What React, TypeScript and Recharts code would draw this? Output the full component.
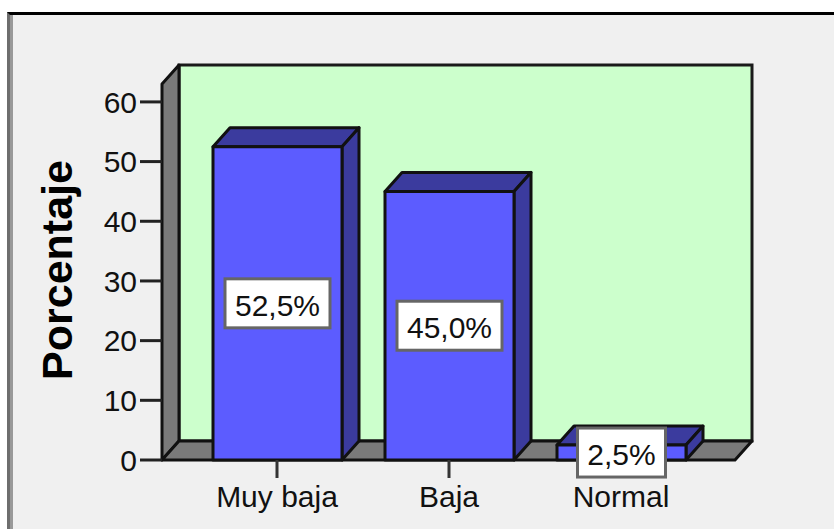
import React from 'react';
import { BarChart, Bar, XAxis, YAxis, ReferenceArea, LabelList } from 'recharts';

const categories = ['Muy baja', 'Baja', 'Normal'];
const percentages = [52.5, 45.0, 2.5];
const yTicks = [0, 10, 20, 30, 40, 50, 60];

const data = categories.map((name, i) => ({ name, value: percentages[i] }));

const FONT = '"Liberation Sans", Arial, sans-serif';
const DX = 17;
const DY = 19;
const PAD_L = 29;
const PAD_R = 28;

const fmt = (v: number) => v.toFixed(1).replace('.', ',') + '%';

// back wall, left wall and floor of the 3D box
const Walls = (props: any) => {
  const { x, y, width, height } = props;
  const l = x - PAD_L;
  const r = x + width + PAD_R;
  const b = y + height;
  return (
    <g>
      <rect x={l + DX} y={y - DY} width={r - l} height={height} fill="#ccffcc" stroke="#1a1a1a" strokeWidth={3} />
      <polygon
        points={`${l},${y} ${l + DX},${y - DY} ${l + DX},${b - DY} ${l},${b}`}
        fill="#7a7a7a"
        stroke="#111"
        strokeWidth={3}
        strokeLinejoin="round"
      />
      <polygon
        points={`${l},${b} ${l + DX},${b - DY} ${r + DX},${b - DY} ${r},${b}`}
        fill="#7a7a7a"
        stroke="#111"
        strokeWidth={3}
        strokeLinejoin="round"
      />
    </g>
  );
};

const Bar3D = (props: any) => {
  const { x, y, width, height } = props;
  if (height == null) return null;
  return (
    <g stroke="#111" strokeWidth={3} strokeLinejoin="round">
      <polygon
        points={`${x},${y} ${x + DX},${y - DY} ${x + width + DX},${y - DY} ${x + width},${y}`}
        fill="#3b3b9e"
      />
      <polygon
        points={`${x + width},${y} ${x + width + DX},${y - DY} ${x + width + DX},${y + height - DY} ${x + width},${y + height}`}
        fill="#3b3b9e"
      />
      <rect x={x} y={y} width={width} height={height} fill="#5c5cff" />
    </g>
  );
};

const ValueBox = (props: any) => {
  const { x, y, width, height, value } = props;
  const text = fmt(Number(value));
  const bw = text.length * 17 + 20;
  const bh = 49;
  const cx = x + width / 2;
  const cy = y + height / 2;
  return (
    <g>
      <rect x={cx - bw / 2} y={cy - bh / 2} width={bw} height={bh} fill="#ffffff" stroke="#666" strokeWidth={3} />
      <text x={cx} y={cy + 2} textAnchor="middle" dominantBaseline="central" fontFamily={FONT} fontSize={30} fill="#111">
        {text}
      </text>
    </g>
  );
};

const AxisTitle = (props: any) => {
  const { viewBox } = props;
  const tx = viewBox.x - 28;
  const ty = viewBox.y + viewBox.height / 2 - 2;
  return (
    <text
      x={tx}
      y={ty}
      transform={`rotate(-90, ${tx}, ${ty})`}
      textAnchor="middle"
      fontFamily={FONT}
      fontWeight="bold"
      fontSize={43}
      fill="#000"
    >
      Porcentaje
    </text>
  );
};

export default function App() {
  return (
    <div style={{ position: 'absolute', left: 0, top: 0, width: 834, height: 529, background: '#ffffff', overflow: 'hidden' }}>
      <div
        style={{
          position: 'absolute',
          left: 7,
          top: 12,
          right: -4,
          bottom: -4,
          background: '#f0f0f0',
          borderTop: '3px solid #000',
          borderLeft: '3px solid #6e6e6e',
          boxShadow: 'inset 3px 0 0 #999',
        }}
      />
      <div style={{ position: 'absolute', left: 0, top: 0 }}>
        <BarChart width={834} height={529} data={data} margin={{ top: 84, right: 99, bottom: 0, left: 100 }}>
          <XAxis
            dataKey="name"
            height={69}
            padding={{ left: PAD_L, right: PAD_R }}
            axisLine={false}
            tickSize={18}
            tickMargin={8}
            tickLine={{ stroke: '#333', strokeWidth: 3 }}
            tick={{ fontFamily: FONT, fontSize: 30, fill: '#111' }}
            interval={0}
          />
          <YAxis
            width={62}
            domain={[0, 63]}
            ticks={yTicks}
            interval={0}
            axisLine={false}
            tickSize={22}
            tickMargin={3}
            tickLine={{ stroke: '#222', strokeWidth: 3 }}
            tick={{ fontFamily: FONT, fontSize: 30, fill: '#111' }}
            label={{ content: AxisTitle }}
          />
          <ReferenceArea y1={0} y2={63} shape={Walls} ifOverflow="visible" />
          <Bar dataKey="value" barSize={129} shape={Bar3D} isAnimationActive={false}>
            <LabelList dataKey="value" content={ValueBox} />
          </Bar>
        </BarChart>
      </div>
    </div>
  );
}
